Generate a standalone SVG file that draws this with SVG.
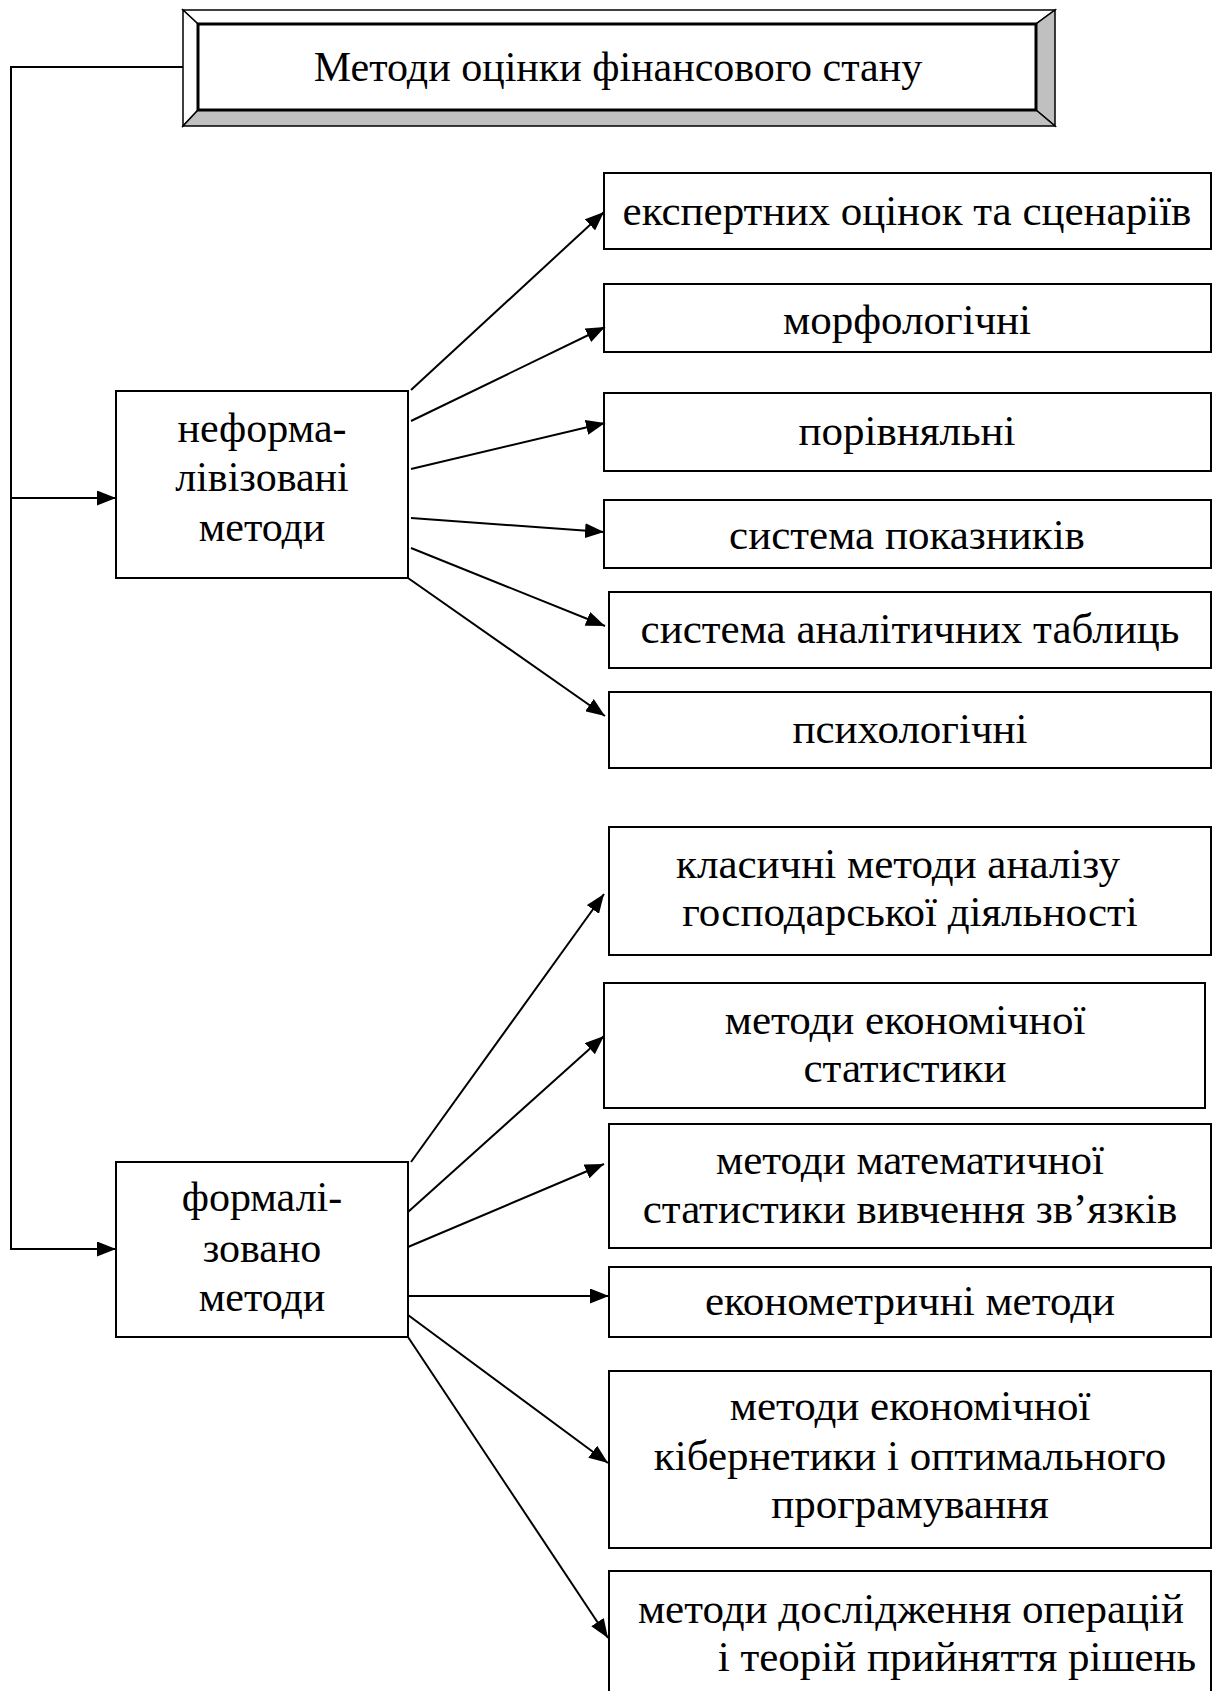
<svg xmlns="http://www.w3.org/2000/svg" width="1213" height="1691" viewBox="0 0 1213 1691">
<defs>
<style>
.b{fill:#fff;stroke:#000;stroke-width:2}
.t{font-family:"Liberation Serif","Times New Roman",serif;font-size:42px;fill:#000;text-anchor:middle}
.r{font-size:43px}
.c{fill:none;stroke:#000;stroke-width:2}
</style>
<marker id="ah" markerUnits="userSpaceOnUse" markerWidth="20" markerHeight="15" refX="19" refY="7.5" orient="auto"><path d="M0,0 L19,7.5 L0,15 z" fill="#000"/></marker>
</defs>
<rect width="1213" height="1691" fill="#fff"/>
<g id="title">
<polygon points="183,10 1055,10 1036,24 198,24" fill="#fff" stroke="#000" stroke-width="1.5"/>
<polygon points="183,10 198,24 198,110 183,126" fill="#fff" stroke="#000" stroke-width="1.5"/>
<polygon points="1055,10 1055,126 1036,110 1036,24" fill="#c0c0c0" stroke="#000" stroke-width="1.5"/>
<polygon points="183,126 198,110 1036,110 1055,126" fill="#c0c0c0" stroke="#000" stroke-width="1.5"/>
<rect x="198" y="24" width="838" height="86" fill="#fff" stroke="#000" stroke-width="3"/>
<text class="t" x="618" y="81" font-size="43">Методи оцінки фінансового стану</text>
</g>
<g id="nonformal">
<rect class="b" x="116" y="391" width="292" height="187"/>
<text class="t" x="262" y="442">неформа-</text>
<text class="t" x="262" y="491">лівізовані</text>
<text class="t" x="262" y="541">методи</text>
</g>
<g id="formal">
<rect class="b" x="116" y="1162" width="292" height="175"/>
<text class="t" x="262" y="1211">формалі-</text>
<text class="t" x="262" y="1262">зовано</text>
<text class="t" x="262" y="1311">методи</text>
</g>
<g id="n1"><rect class="b" x="604" y="173" width="607" height="76"/><text class="t r" x="907" y="225">експертних оцінок та сценаріїв</text></g>
<g id="n2"><rect class="b" x="604" y="284" width="607" height="68"/><text class="t r" x="907" y="334">морфологічні</text></g>
<g id="n3"><rect class="b" x="604" y="393" width="607" height="78"/><text class="t r" x="907" y="445">порівняльні</text></g>
<g id="n4"><rect class="b" x="604" y="500" width="607" height="68"/><text class="t r" x="907" y="549">система показників</text></g>
<g id="n5"><rect class="b" x="609" y="592" width="602" height="76"/><text class="t r" x="910" y="643">система аналітичних таблиць</text></g>
<g id="n6"><rect class="b" x="609" y="692" width="602" height="76"/><text class="t r" x="910" y="743">психологічні</text></g>
<g id="f1"><rect class="b" x="609" y="827" width="602" height="128"/><text class="t r" x="898" y="878">класичні методи аналізу</text><text class="t r" x="910" y="926">господарської діяльності</text></g>
<g id="f2"><rect class="b" x="604" y="983" width="601" height="125"/><text class="t r" x="905" y="1034">методи економічної</text><text class="t r" x="905" y="1082">статистики</text></g>
<g id="f3"><rect class="b" x="609" y="1124" width="602" height="124"/><text class="t r" x="910" y="1174">методи математичної</text><text class="t r" x="910" y="1223">статистики вивчення зв’язків</text></g>
<g id="f4"><rect class="b" x="609" y="1267" width="602" height="70"/><text class="t r" x="910" y="1315">економетричні методи</text></g>
<g id="f5"><rect class="b" x="609" y="1371" width="602" height="177"/><text class="t r" x="910" y="1420">методи економічної</text><text class="t r" x="910" y="1470">кібернетики і оптимального</text><text class="t r" x="910" y="1518">програмування</text></g>
<g id="f6"><rect class="b" x="609" y="1571" width="602" height="130"/><text class="t r" x="911" y="1623">методи дослідження операцій</text><text class="t r" x="957" y="1671">і теорій прийняття рішень</text></g>
<g id="connectors">
<polyline class="c" points="183,67 11,67 11,1249 116,1249" marker-end="url(#ah)"/>
<line class="c" x1="11" y1="498" x2="116" y2="498" marker-end="url(#ah)"/>
<line class="c" x1="411" y1="390" x2="604" y2="212" marker-end="url(#ah)"/>
<line class="c" x1="411" y1="421" x2="605" y2="327" marker-end="url(#ah)"/>
<line class="c" x1="411" y1="469" x2="605" y2="423" marker-end="url(#ah)"/>
<line class="c" x1="411" y1="518" x2="604" y2="532" marker-end="url(#ah)"/>
<line class="c" x1="411" y1="548" x2="605" y2="626" marker-end="url(#ah)"/>
<line class="c" x1="408" y1="578" x2="605" y2="716" marker-end="url(#ah)"/>
<line class="c" x1="411" y1="1162" x2="604" y2="894" marker-end="url(#ah)"/>
<line class="c" x1="408" y1="1212" x2="604" y2="1036" marker-end="url(#ah)"/>
<line class="c" x1="408" y1="1247" x2="604" y2="1164" marker-end="url(#ah)"/>
<line class="c" x1="408" y1="1296" x2="609" y2="1296" marker-end="url(#ah)"/>
<line class="c" x1="408" y1="1315" x2="608" y2="1463" marker-end="url(#ah)"/>
<line class="c" x1="408" y1="1337" x2="608" y2="1638" marker-end="url(#ah)"/>
</g>
</svg>
